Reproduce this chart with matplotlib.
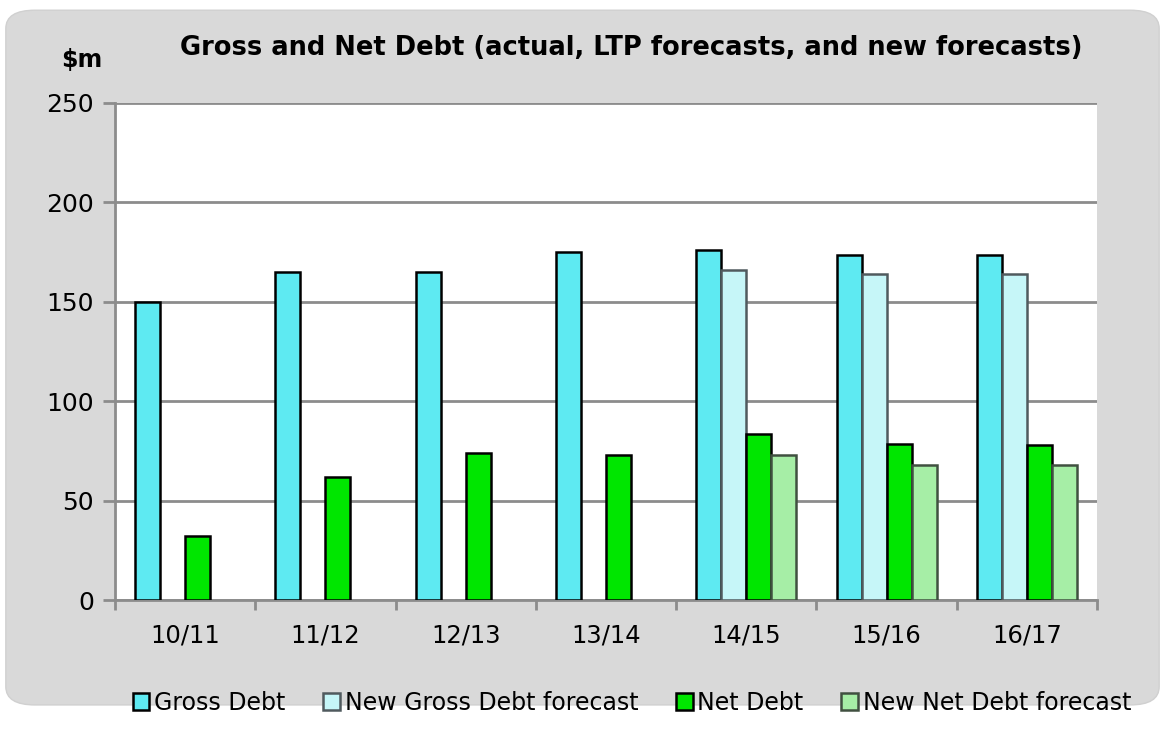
import matplotlib
matplotlib.use("Agg")
import matplotlib.pyplot as plt
import numpy as np
from matplotlib.patches import FancyBboxPatch

categories = ["10/11", "11/12", "12/13", "13/14", "14/15", "15/16", "16/17"]
gross_debt = [150, 165, 165, 175, 176, 173.5, 173.5]
new_gross_forecast = [None, None, None, None, 166, 164, 164]
net_debt = [32, 62, 74, 73, 83.5, 78.5, 78]
new_net_forecast = [None, None, None, None, 73, 68, 68]
series_names = ["Gross Debt", "New Gross Debt forecast", "Net Debt", "New Net Debt forecast"]
colors = ["#5EEAF2", "#C6F6F8", "#00E600", "#A6EEA6"]
edges = ["#000000", "#505a5e", "#000000", "#405040"]

fig = plt.figure(figsize=(11.65, 7.29), dpi=100)
fig.patch.set_facecolor("white")
bg = FancyBboxPatch((0.005, 0.033), 0.99, 0.953, boxstyle="round,pad=0,rounding_size=0.025",
                    transform=fig.transFigure, facecolor="#D9D9D9", edgecolor="#D0D0D0", zorder=-10)
fig.patches.append(bg)

ax = fig.add_axes([115/1165, 1-600/729, (1097-115)/1165, (600-103)/729])
ax.set_zorder(1)
ax.set_facecolor("white")

x = np.arange(len(categories))
w = 0.178
data = [gross_debt, new_gross_forecast, net_debt, new_net_forecast]
for i, (vals, c, ec, name) in enumerate(zip(data, colors, edges, series_names)):
    xs = [xx + (i - 1.5) * w for xx, v in zip(x, vals) if v is not None]
    vs = [v for v in vals if v is not None]
    ax.bar(xs, vs, width=w, color=c, edgecolor=ec, linewidth=1.8, label=name, zorder=3)

ax.set_xlim(-0.5, len(categories) - 0.5)
ax.set_ylim(0, 250)
ax.set_yticks([0, 50, 100, 150, 200, 250])
ax.yaxis.grid(True, color="#8c8c8c", linewidth=2, zorder=0)
ax.set_axisbelow(True)
ax.set_xticks(np.arange(-0.5, len(categories) + 0.5, 1))
ax.set_xticklabels([])
ax.set_xticks(x, minor=True)
ax.set_xticklabels(categories, minor=True, fontsize=17.5)
ax.tick_params(axis="x", which="minor", length=0, pad=17)
ax.tick_params(axis="x", which="major", length=7, width=2, color="#8c8c8c", direction="out")
ax.tick_params(axis="y", length=9, width=2, color="#8c8c8c", labelsize=18, pad=6)
for s in ["top", "right"]:
    ax.spines[s].set_visible(False)
for s in ["left", "bottom"]:
    ax.spines[s].set_color("#8c8c8c")
    ax.spines[s].set_linewidth(2)

fig.text(631/1165, 1-48/729, "Gross and Net Debt (actual, LTP forecasts, and new forecasts)",
         ha="center", va="center", fontsize=18.5, fontweight="bold")
fig.text(82/1165, 1-60/729, "$m", ha="center", va="center", fontsize=17, fontweight="bold")

leg = fig.legend(loc="center", bbox_to_anchor=(632/1165, 1-703/729), ncol=4, frameon=False,
                 fontsize=17, handlelength=0.7, handleheight=0.7, handletextpad=0.2,
                 columnspacing=1.6)

fig.savefig("out.png", dpi=100, facecolor="white")
